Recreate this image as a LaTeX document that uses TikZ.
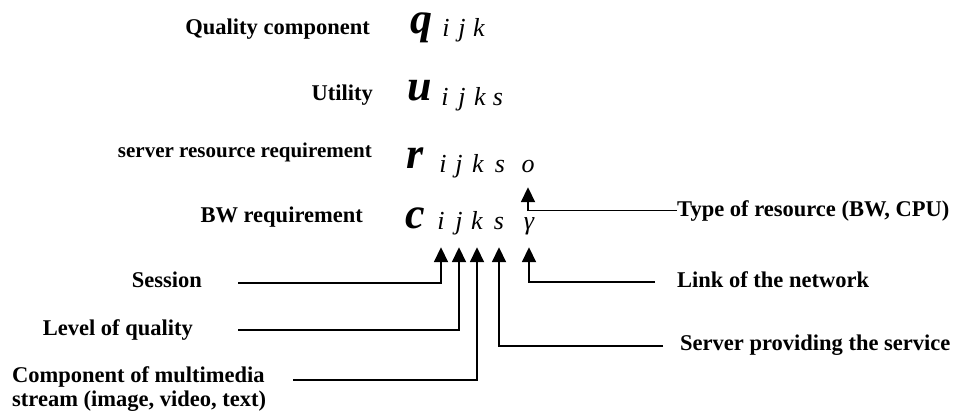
\documentclass[tikz,border=0pt]{standalone}
\usepackage{fontspec}
\setmainfont{Liberation Serif}
\usetikzlibrary{arrows.meta}
\tikzset{
  lbl/.style={font=\fontsize{22.5}{24}\selectfont\bfseries, inner sep=0pt},
  smalllbl/.style={font=\fontsize{21}{24}\selectfont\bfseries, inner sep=0pt},
  sym/.style={font=\fontsize{44}{44}\selectfont\bfseries\itshape, inner sep=0pt, anchor=base},
  idx/.style={font=\fontsize{26}{26}\selectfont\itshape, inner sep=0pt, anchor=base, text depth=0pt},
  leader/.style={-{Triangle[length=15pt,width=14pt]}, line width=1.8pt, shorten >=18pt}
}

\begin{document}
\begin{tikzpicture}[x=1pt,y=-1pt]
\useasboundingbox (0,0) rectangle (972,412);
% names of the variables
\node[lbl, anchor=base east] (qlbl) at (370,35) {Quality component};
\node[lbl, anchor=base east] (ulbl) at (373,100) {Utility};
\node[smalllbl, anchor=base east] (rlbl) at (372,157) {server resource requirement};
\node[lbl, anchor=base east] (clbl) at (363,222) {BW requirement};
% q row
\node[sym] (q) at (421,34) {q};
\node[idx] (q1) at (446,37) {i};
\node[idx] (q2) at (462,37) {j};
\node[idx] (q3) at (479,37) {k};
% u row
\node[sym] (u) at (420,100) {u};
\node[idx] (u1) at (445,105) {i};
\node[idx] (u2) at (462,105) {j};
\node[idx] (u3) at (480,105) {k};
\node[idx] (u4) at (498,105) {s};
% r row
\node[sym] (r) at (415,168) {r};
\node[idx] (r1) at (443,172) {i};
\node[idx] (r2) at (459,172) {j};
\node[idx] (r3) at (478,172) {k};
\node[idx] (r4) at (500,172) {s};
\node[idx] (r5) at (528,172) {o};
% c row
\node[sym] (c) at (415,228) {c};
\node[idx] (c1) at (441,229) {i};
\node[idx] (c2) at (459,229) {j};
\node[idx] (c3) at (477,229) {k};
\node[idx] (c4) at (499,229) {s};
\node[idx] (c5) at (529,229) {γ};
% meaning of the indices
\node[lbl, anchor=base east] (ses) at (202,287) {Session};
\node[lbl, anchor=base east] (lvl) at (193,335) {Level of quality};
\node[lbl, anchor=west, align=left] (cmp) at (12,389) {Component of multimedia\\stream (image, video, text)};
\node[lbl, anchor=base west] (typ) at (677,216) {Type of resource (BW, CPU)};
\node[lbl, anchor=base west] (lnk) at (677,287) {Link of the network};
\node[lbl, anchor=base west] (srv) at (680,350) {Server providing the service};
% free ends of the leaders
\coordinate (sesL) at (238,283);
\coordinate (lvlL) at (238,330);
\coordinate (cmpL) at (293,380);
\coordinate (lnkR) at (655,282);
\coordinate (srvR) at (663,346);
% leaders
\draw[leader, shorten >=15pt] (typ.west) -| (r5);
\draw[leader] (sesL) -| (c1);
\draw[leader] (lvlL) -| (c2);
\draw[leader] (cmpL) -| (c3);
\draw[leader] (srvR) -| (c4);
\draw[leader] (lnkR) -| (c5);
\end{tikzpicture}
\end{document}
